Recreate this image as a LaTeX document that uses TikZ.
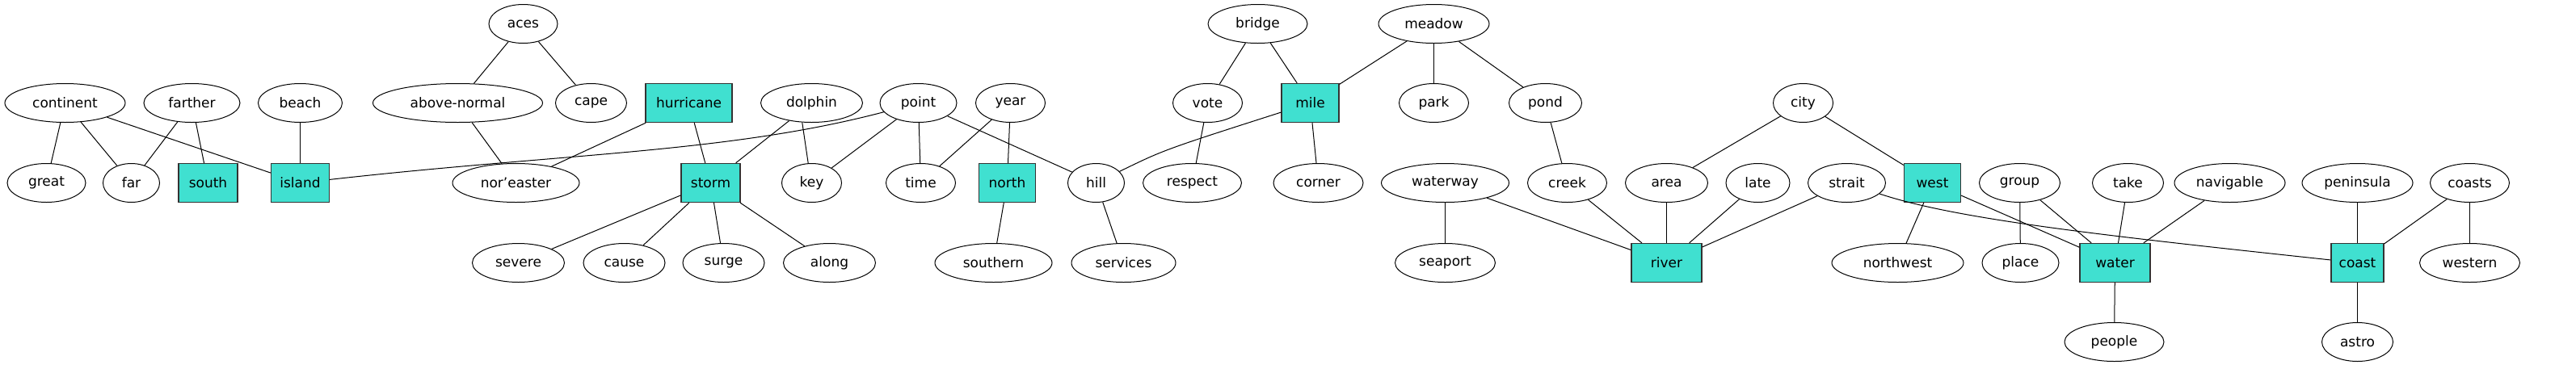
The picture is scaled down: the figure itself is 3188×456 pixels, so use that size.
\documentclass[tikz,border=0pt]{standalone}
\usepackage{fontspec}
\setmainfont{DejaVu Sans}
\usetikzlibrary{shapes.geometric}
\definecolor{turq}{HTML}{40E0D0}
\definecolor{boxline}{HTML}{333333}
\begin{document}
\begin{tikzpicture}[x=1pt,y=-1pt,
  every node/.style={font=\fontsize{17}{20}\selectfont, inner sep=0pt},
  el/.style={draw=black, line width=1pt, ellipse, minimum height=48pt, minimum width=#1},
  bx/.style={draw=boxline, line width=1.3pt, rectangle, fill=turq, minimum height=48pt, minimum width=#1},
  edge/.style={draw=black, line width=1pt}]
\useasboundingbox (0,0) rectangle (3188,456);
\begin{scope}[xshift=0.5pt,yshift=0.5pt]
% row 0
\node[el=85pt] (aces) at (647,30) {aces};
\node[el=123pt] (bridge) at (1556,30) {bridge};
\node[el=137pt] (meadow) at (1774,30) {meadow};
% row 1
\node[el=149pt] (continent) at (80,128) {continent};
\node[el=119pt] (farther) at (237,128) {farther};
\node[el=104pt] (beach) at (371,128) {beach};
\node[el=210pt] (abovenormal) at (566,128) {above-normal};
\node[el=88pt] (cape) at (731,128) {cape};
\node[bx=107pt] (hurricane) at (852,128) {hurricane};
\node[el=126pt] (dolphin) at (1004,128) {dolphin};
\node[el=95pt] (point) at (1136,128) {point};
\node[el=86pt] (year) at (1250,128) {year};
\node[el=86pt] (vote) at (1494,128) {vote};
\node[bx=71pt] (mile) at (1621,128) {mile};
\node[el=86pt] (park) at (1774,128) {park};
\node[el=90pt] (pond) at (1912,128) {pond};
\node[el=74pt] (city) at (2231,128) {city};
% row 2
\node[el=97pt] (great) at (57,227) {great};
\node[el=70pt] (far) at (162,227) {far};
\node[bx=73pt] (south) at (257,227) {south};
\node[bx=72pt] (island) at (371,227) {island};
\node[el=157pt] (noreaster) at (638,227) {nor'easter};
\node[bx=73pt] (storm) at (879,227) {storm};
\node[el=74pt] (key) at (1004,227) {key};
\node[el=86pt] (time) at (1139,227) {time};
\node[bx=70pt] (north) at (1246,227) {north};
\node[el=70pt] (hill) at (1356,227) {hill};
\node[el=122pt] (respect) at (1475,227) {respect};
\node[el=111pt] (corner) at (1631,227) {corner};
\node[el=158pt] (waterway) at (1788,227) {waterway};
\node[el=98pt] (creek) at (1939,227) {creek};
\node[el=102pt] (area) at (2062,227) {area};
\node[el=79pt] (late) at (2175,227) {late};
\node[el=96pt] (strait) at (2285,227) {strait};
\node[bx=70pt] (west) at (2391,227) {west};
\node[el=100pt] (group) at (2499,227) {group};
\node[el=88pt] (take) at (2633,227) {take};
\node[el=137pt] (navigable) at (2759,227) {navigable};
\node[el=137pt] (peninsula) at (2917,227) {peninsula};
\node[el=98pt] (coasts) at (3056,227) {coasts};
% row 3
\node[el=114pt] (severe) at (641,326) {severe};
\node[el=101pt] (cause) at (772,326) {cause};
\node[el=101pt] (surge) at (895,326) {surge};
\node[el=114pt] (along) at (1026,326) {along};
\node[el=145pt] (southern) at (1229,326) {southern};
\node[el=129pt] (services) at (1390,326) {services};
\node[el=124pt] (seaport) at (1788,326) {seaport};
\node[bx=87pt] (river) at (2062,326) {river};
\node[el=163pt] (northwest) at (2348,326) {northwest};
\node[el=95pt] (place) at (2500,326) {place};
\node[bx=87pt] (water) at (2617,326) {water};
\node[bx=65pt] (coast) at (2917,326) {coast};
\node[el=124pt] (western) at (3056,326) {western};
% row 4
\node[el=123pt] (people) at (2616,424) {people};
\node[el=88pt] (astro) at (2917,424) {astro};
% edges
\begin{scope}[every path/.style={edge}]
\draw (continent) -- (great);
\draw (continent) -- (far);
\draw (continent) -- (island);
\draw (farther) -- (far);
\draw (farther) -- (south);
\draw (beach) -- (island);
\draw (island) .. controls (700,190) and (900,190) .. (point);
\draw (aces) -- (abovenormal);
\draw (aces) -- (cape);
\draw (abovenormal) -- (noreaster);
\draw (hurricane) -- (noreaster);
\draw (hurricane) -- (storm);
\draw (dolphin) -- (storm);
\draw (dolphin.244) -- (key.100);
\draw (point) -- (key);
\draw (point) -- (time);
\draw (point) -- (hill);
\draw (year) -- (time);
\draw (year) -- (north);
\draw (north) -- (southern);
\draw (storm) -- (severe);
\draw (storm) -- (cause);
\draw (storm) -- (surge);
\draw (storm) -- (along);
\draw (hill) -- (services);
\draw (hill) .. controls (1440,186) .. (mile);
\draw (bridge) -- (vote);
\draw (bridge) -- (mile);
\draw (vote) -- (respect);
\draw (meadow) -- (mile);
\draw (meadow) -- (park);
\draw (meadow) -- (pond);
\draw (mile) -- (corner);
\draw (pond) -- (creek);
\draw (waterway) -- (seaport);
\draw (waterway) -- (river);
\draw (creek) -- (river);
\draw (area) -- (river);
\draw (late) -- (river);
\draw (strait) -- (river);
\draw (city) -- (area);
\draw (city) -- (west);
\draw (west) -- (northwest);
\draw (west) -- (water);
\draw (strait) .. controls (2420,272) and (2600,292) .. (coast);
\draw (group) -- (place);
\draw (group) -- (water);
\draw (take) -- (water);
\draw (navigable) -- (water);
\draw (water) -- (people);
\draw (peninsula) -- (coast);
\draw (coasts) -- (coast);
\draw (coasts) -- (western);
\draw (coast) -- (astro);
\end{scope}
\end{scope}
\end{tikzpicture}
\end{document}
